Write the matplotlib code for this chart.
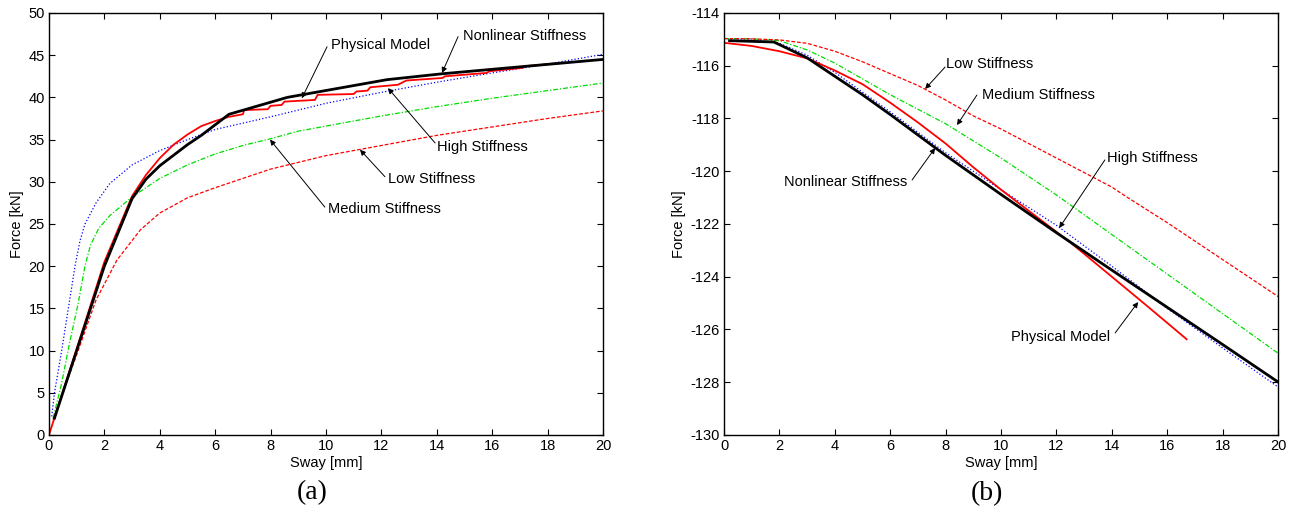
import matplotlib
matplotlib.use('Agg')
import matplotlib.pyplot as plt

plt.rcParams['font.family'] = ['Liberation Sans', 'DejaVu Sans']
plt.rcParams['axes.unicode_minus'] = False

# ============================================================
# (a) force vs sway
# ============================================================
phys_a_x = [0, 1, 2, 3, 3.5, 4, 4.5, 5, 5.5, 6, 6.5, 7.0, 7.05, 7.9, 8.0, 8.4, 8.5,
            9.6, 9.7, 11.0, 11.1, 11.5, 11.6, 12.6, 12.9, 14.2, 14.3, 15.8, 15.9,
            17.1, 17.2, 18.6]
phys_a_y = [0, 10.2, 20.5, 28.3, 30.8, 32.8, 34.4, 35.6, 36.6, 37.2, 37.7, 38.0, 38.5,
            38.6, 39.0, 39.1, 39.5, 39.7, 40.3, 40.4, 40.7, 40.8, 41.2, 41.5, 42.0,
            42.3, 42.5, 42.9, 43.1, 43.5, 43.7, 44.1]

nonlin_a_x = [0.2, 1, 2, 3, 3.5, 4, 5, 5.5, 6.5, 8.6, 12.2, 14.2, 20]
nonlin_a_y = [2.0, 10.0, 20.0, 28.0, 30.3, 31.9, 34.4, 35.5, 38.0, 40.0, 42.1, 42.8, 44.5]

high_a_x = [0.1, 0.2, 0.46, 0.7, 0.94, 1.12, 1.3, 1.7, 2.2, 3, 4, 5, 6, 8, 10, 12, 14, 16, 18, 20]
high_a_y = [2.2, 5.0, 10.0, 15.0, 20.0, 23.0, 25.0, 27.5, 29.8, 32.0, 33.7, 35.0, 36.2,
            37.7, 39.3, 40.6, 41.8, 42.9, 43.95, 45.1]

med_a_x = [0.15, 0.45, 0.75, 1.05, 1.3, 1.5, 1.8, 2.2, 3, 4, 5, 6, 7, 8, 9, 10, 12, 14, 16, 18, 20]
med_a_y = [2.0, 6.0, 11.0, 15.5, 20.0, 22.5, 24.5, 26.0, 28.2, 30.4, 32.0, 33.3, 34.3,
           35.1, 36.0, 36.6, 37.8, 38.9, 39.9, 40.8, 41.7]

low_a_x = [0.15, 1, 1.7, 2.45, 3.3, 4, 5, 6, 7, 8, 9, 10, 12, 14, 16, 18, 20]
low_a_y = [1.8, 9.5, 16.0, 20.7, 24.3, 26.3, 28.1, 29.3, 30.4, 31.5, 32.3, 33.1, 34.3,
           35.5, 36.5, 37.5, 38.4]

# ============================================================
# (b) force vs sway
# ============================================================
phys_b_x = [0, 1, 2, 3, 4, 5, 6, 7, 8, 9, 10, 11, 12, 12.5, 13, 14, 15, 16, 16.7]
phys_b_y = [-115.13, -115.25, -115.45, -115.72, -116.18, -116.7, -117.4, -118.15,
            -118.95, -119.85, -120.7, -121.5, -122.3, -122.7, -123.13, -124.0,
            -124.87, -125.75, -126.37]

nonlin_b_x = [0.2, 1.8, 3, 4, 5, 6, 8, 10, 12, 14, 16, 18, 20]
nonlin_b_y = [-115.05, -115.1, -115.7, -116.4, -117.1, -117.85, -119.4, -120.88,
              -122.33, -123.75, -125.16, -126.57, -127.99]

high_b_x = [0, 1, 2, 3, 4, 5, 6, 8, 10, 12, 14, 16, 18, 20]
high_b_y = [-114.97, -114.99, -115.15, -115.6, -116.25, -117.0, -117.75, -119.3,
            -120.7, -122.05, -123.6, -125.2, -126.7, -128.18]

med_b_x = [0, 1, 2, 3, 4, 5, 6, 7, 8, 9, 10, 12, 14, 16, 18, 20]
med_b_y = [-114.97, -114.98, -115.05, -115.4, -115.9, -116.5, -117.1, -117.65,
           -118.2, -118.85, -119.5, -120.9, -122.4, -123.9, -125.4, -126.9]

low_b_x = [0, 1, 2, 3, 4, 5, 6, 7, 8, 9, 10, 11, 12, 13, 14, 14.5, 16, 18, 20]
low_b_y = [-114.97, -114.98, -115.02, -115.15, -115.45, -115.85, -116.3, -116.75,
           -117.3, -117.9, -118.4, -118.95, -119.5, -120.05, -120.6, -120.95,
           -121.95, -123.35, -124.75]

# annotation: label, text anchor, arrow tail, arrow tip, horizontal alignment
notes_a = [
    ('Physical Model',      (10.18, 46.2), (10.04, 46.0), (9.13, 39.9),  'left'),
    ('Nonlinear Stiffness', (14.95, 47.3), (14.77, 47.2), (14.19, 42.9), 'left'),
    ('High Stiffness',      (14.0, 34.1),  (13.94, 34.6), (12.24, 41.1), 'left'),
    ('Low Stiffness',       (12.24, 30.3), (12.13, 30.6), (11.23, 33.8), 'left'),
    ('Medium Stiffness',    (10.07, 26.8), (9.96, 27.0),  (7.98, 35.0),  'left'),
]
notes_b = [
    ('Low Stiffness',       (8.01, -115.93), (7.98, -116.05), (7.26, -116.88), 'left'),
    ('Medium Stiffness',    (9.31, -117.11), (9.13, -117.11), (8.41, -118.25), 'left'),
    ('High Stiffness',      (13.83, -119.5), (13.75, -119.57), (12.1, -122.15), 'left'),
    ('Nonlinear Stiffness', (6.61, -120.41), (6.79, -120.33), (7.62, -119.12), 'right'),
    ('Physical Model',      (13.94, -126.28), (14.12, -126.13), (14.95, -124.96), 'right'),
]

FS = 10.5

fig = plt.figure(figsize=(12.95, 5.2), dpi=100)
ax_a = fig.add_axes([0.0378, 0.1635, 0.4278, 0.8115])
ax_b = fig.add_axes([0.5591, 0.1635, 0.4278, 0.8115])


def draw(ax, phys, nonlin, high, med, low):
    ax.plot(*high, color='blue', linestyle=':', linewidth=0.9)
    ax.plot(*med, color='#00dd00', linestyle=(0, (4, 1.5, 1, 1.5)), linewidth=0.9)
    ax.plot(*low, color='red', linestyle=(0, (3, 1.5)), linewidth=0.9)
    ax.plot(*phys, color='red', linewidth=1.3)
    ax.plot(*nonlin, color='black', linewidth=2.0)


def annotate(ax, notes):
    for label, txt, tail, tip, ha in notes:
        ax.text(txt[0], txt[1], label, ha=ha, va='center', fontsize=FS)
        ax.annotate('', xy=tip, xytext=tail,
                    arrowprops=dict(arrowstyle='-|>', color='black', lw=0.7,
                                    mutation_scale=8, shrinkA=0, shrinkB=0))


def style(ax, ylim, yticks):
    ax.set_xlim(0, 20)
    ax.set_ylim(*ylim)
    ax.set_xticks(range(0, 21, 2))
    ax.set_yticks(yticks)
    ax.tick_params(direction='in', top=True, right=True, length=4, width=0.8,
                   labelsize=FS, pad=3)
    for s in ax.spines.values():
        s.set_linewidth(1.0)
    ax.set_xlabel('Sway [mm]', fontsize=FS, labelpad=2)
    ax.set_ylabel('Force [kN]', fontsize=FS, labelpad=3)


draw(ax_a, (phys_a_x, phys_a_y), (nonlin_a_x, nonlin_a_y), (high_a_x, high_a_y),
     (med_a_x, med_a_y), (low_a_x, low_a_y))
annotate(ax_a, notes_a)
style(ax_a, (0, 50), range(0, 51, 5))

draw(ax_b, (phys_b_x, phys_b_y), (nonlin_b_x, nonlin_b_y), (high_b_x, high_b_y),
     (med_b_x, med_b_y), (low_b_x, low_b_y))
annotate(ax_b, notes_b)
style(ax_b, (-130, -114), range(-130, -113, 2))

fig.text(312 / 1295, 1 - 493 / 520, '(a)', ha='center', va='center',
         fontsize=20, family='Liberation Serif')
fig.text(987 / 1295, 1 - 494 / 520, '(b)', ha='center', va='center',
         fontsize=20, family='Liberation Serif')

fig.savefig('out.png', dpi=100)
